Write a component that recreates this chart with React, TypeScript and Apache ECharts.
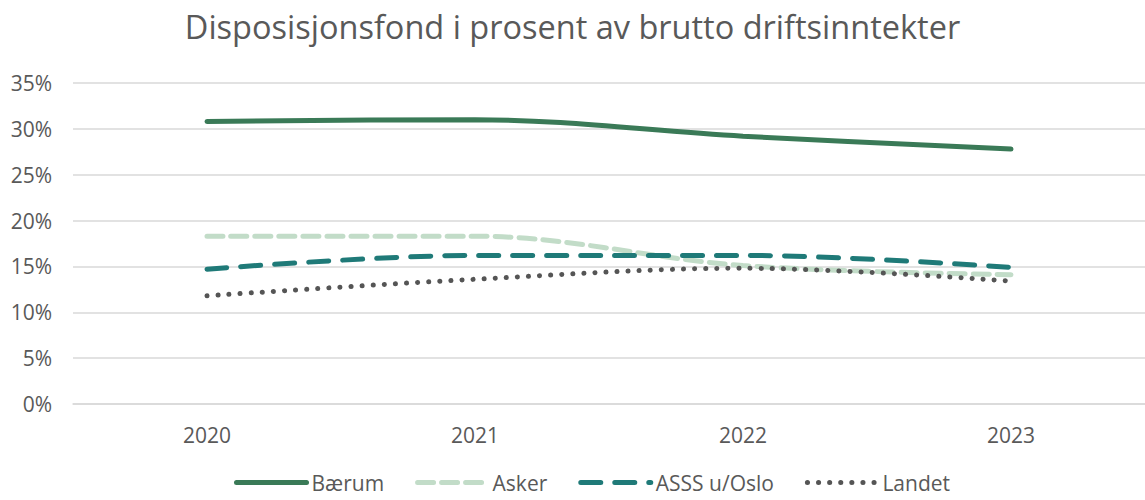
import React, { useEffect, useRef } from "react";
import * as echarts from "echarts";

const years = ["2020", "2021", "2022", "2023"];
const baerum = [30.8, 31.0, 29.2, 27.8];
const asker = [18.3, 18.3, 15.1, 14.1];
const asss = [14.7, 16.2, 16.2, 14.9];
const landet = [11.8, 13.6, 14.8, 13.4];
const names = ["Bærum", "Asker", "ASSS u/Oslo", "Landet"];
const yTicks = { min: 0, max: 35, interval: 5 };

const FONT = "'Open Sans', 'Liberation Sans', sans-serif";

const styles: any[] = [
  { color: "#3a7a57", width: 5, type: "solid", cap: "round" },
  { color: "#c2dcc8", width: 5, type: [16, 8], cap: "round" },
  { color: "#1f7a78", width: 5, type: [20, 14], cap: "round" },
  { color: "#555555", width: 5, type: [0.1, 11], cap: "round" },
];

export default function App() {
  const ref = useRef<HTMLDivElement>(null);
  useEffect(() => {
    if (!ref.current) return;
    const chart = echarts.init(ref.current, undefined, { renderer: "svg" });
    const datas = [baerum, asker, asss, landet];
    chart.setOption({
      animation: false,
      textStyle: { fontFamily: FONT },
      title: {
        text: "Disposisjonsfond i prosent av brutto driftsinntekter",
        left: "center",
        top: 5,
        textStyle: { fontFamily: FONT, fontSize: 32.5, fontWeight: "normal", color: "#595959" },
      },
      grid: { left: 73, right: 0, top: 83, bottom: 96 },
      legend: {
        bottom: 2,
        left: 229,
        itemWidth: 70,
        itemHeight: 10,
        itemGap: 31,
        textStyle: { fontFamily: FONT, fontSize: 21, color: "#595959" },
        data: names.map((n, i) => ({
          name: n,
          itemStyle: { opacity: 0 },
          lineStyle: { ...styles[i] },
        })),
      },
      xAxis: {
        type: "category",
        data: years,
        boundaryGap: true,
        axisLine: { show: true, lineStyle: { color: "#d9d9d9", width: 1.5 } },
        axisTick: { show: false },
        axisLabel: { fontFamily: FONT, fontSize: 21, color: "#595959", margin: 20 },
      },
      yAxis: {
        type: "value",
        min: yTicks.min,
        max: yTicks.max,
        interval: yTicks.interval,
        axisLine: { show: false },
        axisTick: { show: false },
        splitLine: { lineStyle: { color: "#d9d9d9", width: 1.5 } },
        axisLabel: { fontFamily: FONT, fontSize: 21, color: "#595959", formatter: "{value}%", margin: 21 },
      },
      series: names.map((n, i) => ({
        name: n,
        type: "line",
        data: datas[i],
        smooth: 0.35,
        symbol: "none",
        lineStyle: { ...styles[i] },
        itemStyle: { color: styles[i].color },
      })),
    });
    return () => chart.dispose();
  }, []);
  return (
    <div
      ref={ref}
      style={{ position: "absolute", left: 0, top: 0, width: 1145, height: 500, background: "#fff" }}
    />
  );
}
